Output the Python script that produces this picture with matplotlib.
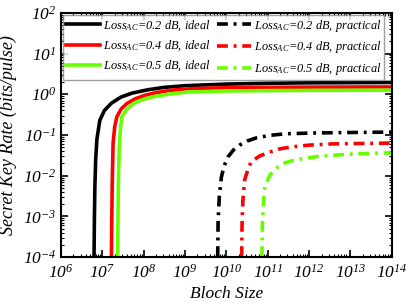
import numpy as np
import matplotlib
matplotlib.use('Agg')
import matplotlib.pyplot as plt
from matplotlib.ticker import FixedLocator, FuncFormatter, LogLocator

plt.rcParams['font.family'] = 'Liberation Serif'
plt.rcParams['mathtext.fontset'] = 'custom'
plt.rcParams['mathtext.it'] = 'Liberation Serif:italic'
plt.rcParams['mathtext.rm'] = 'Liberation Serif:italic'

# block size exponents (log10) and key rate exponents (log10)
ideal_02_x = [6.80, 6.81, 6.82, 6.84, 6.87, 6.94, 7.05, 7.22, 7.45, 7.71, 8.1, 8.5, 9.0, 10.0, 11.0, 12.0, 14.0]
ideal_02_y = [-4.0, -3.0, -2.3, -1.6, -1.1, -0.64, -0.40, -0.22, -0.07, 0.025, 0.11, 0.17, 0.21, 0.25, 0.27, 0.28, 0.29]

ideal_04_x = [7.22, 7.23, 7.24, 7.26, 7.30, 7.35, 7.45, 7.59, 7.8, 8.03, 8.3, 8.67, 9.2, 10.0, 11.0, 12.0, 14.0]
ideal_04_y = [-4.0, -3.0, -2.2, -1.21, -0.8, -0.56, -0.37, -0.23, -0.11, -0.025, 0.04, 0.10, 0.14, 0.16, 0.17, 0.175, 0.18]

ideal_05_x = [7.37, 7.38, 7.39, 7.41, 7.44, 7.47, 7.6, 7.75, 7.95, 8.19, 8.6, 9.07, 10.0, 11.0, 12.0, 14.0]
ideal_05_y = [-4.0, -3.0, -2.1, -1.3, -0.85, -0.56, -0.36, -0.23, -0.14, -0.07, 0.0, 0.057, 0.08, 0.09, 0.095, 0.10]

prac_02_x = [9.79, 9.80, 9.83, 9.88, 9.95, 10.04, 10.17, 10.32, 10.5, 10.73, 11.05, 11.45, 12.2, 13.0, 14.0]
prac_02_y = [-4.0, -3.1, -2.5, -2.03, -1.75, -1.54, -1.37, -1.25, -1.15, -1.07, -1.01, -0.97, -0.95, -0.94, -0.93]

prac_04_x = [10.37, 10.38, 10.40, 10.44, 10.52, 10.6, 10.8, 11.05, 11.3, 11.61, 12.0, 12.57, 13.2, 14.0]
prac_04_y = [-4.0, -3.1, -2.6, -2.11, -1.85, -1.66, -1.52, -1.42, -1.34, -1.29, -1.25, -1.22, -1.21, -1.20]

prac_05_x = [10.86, 10.87, 10.90, 10.93, 11.05, 11.2, 11.37, 11.6, 11.85, 12.2, 12.57, 13.2, 14.0]
prac_05_y = [-4.0, -3.2, -2.6, -2.28, -1.99, -1.82, -1.70, -1.63, -1.58, -1.53, -1.50, -1.46, -1.44]

losses = ['0.2', '0.4', '0.5']
colors = ['black', '#ff0000', '#66ff00']

fig = plt.figure(figsize=(4.09, 3.06), dpi=100)
ax = fig.add_axes([0.149, 0.160, 0.809, 0.798])

ideal = [(ideal_02_x, ideal_02_y), (ideal_04_x, ideal_04_y), (ideal_05_x, ideal_05_y)]
prac = [(prac_02_x, prac_02_y), (prac_04_x, prac_04_y), (prac_05_x, prac_05_y)]

for (x, y), c, l in zip(ideal, colors, losses):
    ax.plot(10 ** np.array(x), 10 ** np.array(y), color=c, lw=2.6,
            label=r'$Loss_{AC}$=%s dB, ideal' % l)
for (x, y), c, l in zip(prac, colors, losses):
    ax.plot(10 ** np.array(x), 10 ** np.array(y), color=c, lw=2.6,
            linestyle=(0, (3, 1.6, 0.8, 1.6)),
            label=r'$Loss_{AC}$=%s dB, practical' % l)

ax.set_xscale('log')
ax.set_yscale('log')
ax.set_xlim(1e6, 1e14)
ax.set_ylim(1e-4, 1e2)

ax.xaxis.set_major_locator(FixedLocator([10.0 ** k for k in range(6, 15)]))
ax.yaxis.set_major_locator(FixedLocator([10.0 ** k for k in range(-4, 3)]))
ax.xaxis.set_minor_locator(LogLocator(base=10, subs=np.arange(2, 10), numticks=20))
ax.yaxis.set_minor_locator(LogLocator(base=10, subs=np.arange(2, 10), numticks=20))
fmt = FuncFormatter(lambda v, p: r'$10^{%d}$' % int(round(np.log10(v))))
ax.xaxis.set_major_formatter(fmt)
ax.yaxis.set_major_formatter(fmt)

ax.tick_params(which='both', direction='in', top=True, right=True, labelsize=12.5)
ax.tick_params(which='major', length=5, width=1.2)
ax.tick_params(which='minor', length=2.5, width=0.8)
ax.tick_params(axis='x', pad=5)
for s in ax.spines.values():
    s.set_linewidth(1.5)

ax.set_xlabel('Bloch Size', fontsize=12.5, style='italic', labelpad=3)
ax.set_ylabel('Secret Key Rate (bits/pulse)', fontsize=13, style='italic', labelpad=4)

leg = ax.legend(ncol=2, loc='upper left', bbox_to_anchor=(0.0, 1.0),
                prop={'family': 'Liberation Serif', 'style': 'italic', 'size': 8.9},
                frameon=True, fancybox=False, handlelength=2.75, handletextpad=0.25,
                columnspacing=0.5, labelspacing=0.45, borderpad=0.25, borderaxespad=0.15)
leg.get_frame().set_edgecolor('#888888')
leg.get_frame().set_linewidth(1.0)

plt.savefig('out.png', dpi=100)
